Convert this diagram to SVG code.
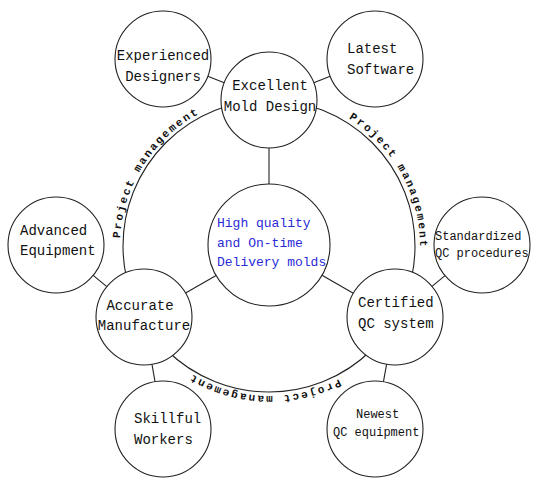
<svg xmlns="http://www.w3.org/2000/svg" width="552" height="485" viewBox="0 0 552 485">
<style>
.n{fill:#fff;stroke:#222;stroke-width:1.1}
.c{stroke:#222;stroke-width:1.1;fill:none}
.t{font-family:"Liberation Mono","DejaVu Sans Mono",monospace;font-size:14px;fill:#111}
.s{font-size:12px}
.b{font-size:13px;fill:#2a2ad8}
.pm{font-family:"Liberation Mono","DejaVu Sans Mono",monospace;font-size:11px;font-weight:bold;letter-spacing:2px;fill:#111}
</style>
<defs>
<path id="arc1" d="M120.2,238.2 A150,150 0 0 1 218.7,105"/>
<path id="arc2" d="M348.8,118.4 A150,150 0 0 1 417.7,272"/>
<path id="arc3" d="M339,379.2 A150,150 0 0 1 173.6,360.9"/>
</defs>
<rect width="552" height="485" fill="#fff"/>
<g id="connectors">
<circle class="c" cx="269" cy="246" r="146"/>
<line class="c" x1="207.8" y1="76.3" x2="224.2" y2="82.7"/>
<line class="c" x1="330.2" y1="76.3" x2="313.8" y2="82.7"/>
<line class="c" x1="269" y1="148" x2="269" y2="184"/>
<line class="c" x1="216.1" y1="275.4" x2="185.6" y2="293"/>
<line class="c" x1="322" y1="275.3" x2="353.3" y2="293.2"/>
<line class="c" x1="93.2" y1="275.4" x2="106.8" y2="286.6"/>
<line class="c" x1="445" y1="275.6" x2="432" y2="286.4"/>
<line class="c" x1="152" y1="364.3" x2="155" y2="381.7"/>
<line class="c" x1="386.6" y1="364.2" x2="383.4" y2="381.8"/>
<text class="pm"><textPath href="#arc1">Project management</textPath></text>
<text class="pm"><textPath href="#arc2">Project management</textPath></text>
<text class="pm"><textPath href="#arc3">Project management</textPath></text>
</g>
<g id="excellent"><circle class="n" cx="269" cy="100" r="48"/>
<text class="t" x="270" y="90" text-anchor="middle">Excellent</text>
<text class="t" x="270" y="111" text-anchor="middle">Mold Design</text></g>
<g id="experienced"><circle class="n" cx="163" cy="59" r="48"/>
<text class="t" x="163" y="60" text-anchor="middle">Experienced</text>
<text class="t" x="163" y="81" text-anchor="middle">Designers</text></g>
<g id="latest"><circle class="n" cx="375" cy="59" r="48"/>
<text class="t" x="347" y="53">Latest</text>
<text class="t" x="347" y="74">Software</text></g>
<g id="center"><circle class="n" cx="269" cy="245" r="61"/>
<text class="t b" x="217" y="227">High quality</text>
<text class="t b" x="217" y="247">and On-time</text>
<text class="t b" x="217" y="266">Delivery molds</text></g>
<g id="advanced"><circle class="n" cx="56" cy="245" r="48"/>
<text class="t" x="20" y="235">Advanced</text>
<text class="t" x="20" y="255">Equipment</text></g>
<g id="accurate"><circle class="n" cx="144" cy="317" r="48"/>
<text class="t" x="140" y="310" text-anchor="middle">Accurate</text>
<text class="t" x="144" y="330" text-anchor="middle">Manufacture</text></g>
<g id="certified"><circle class="n" cx="395" cy="317" r="48"/>
<text class="t" x="358" y="307">Certified</text>
<text class="t" x="358" y="328">QC system</text></g>
<g id="standardized"><circle class="n" cx="482" cy="245" r="48"/>
<text class="t s" x="435" y="240">Standardized</text>
<text class="t s" x="435" y="257">QC procedures</text></g>
<g id="skillful"><circle class="n" cx="163" cy="429" r="48"/>
<text class="t" x="134" y="423">Skillful</text>
<text class="t" x="134" y="444">Workers</text></g>
<g id="newest"><circle class="n" cx="375" cy="429" r="48"/>
<text class="t s" x="356" y="418">Newest</text>
<text class="t s" x="333" y="436">QC equipment</text></g>
</svg>
